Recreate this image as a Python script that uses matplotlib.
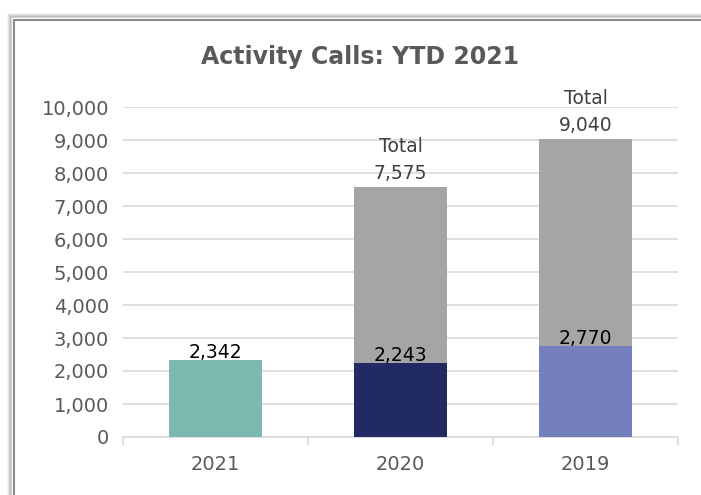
import matplotlib.pyplot as plt
from matplotlib.patches import Rectangle
import numpy as np

years = ["2021", "2020", "2019"]
ytd = [2342, 2243, 2770]
totals = [None, 7575, 9040]
bar_colors = ["#7db8b1", "#212a63", "#7480be"]
rest_color = "#a5a5a5"

fig = plt.figure(figsize=(7.01, 4.95), dpi=100)

# chart frame with a soft shadow
for i, a in enumerate([0.04, 0.07, 0.11, 0.16]):
    off = (4 - i) / 701
    fig.patches.append(Rectangle((12 / 701 - off, -0.2), 1.2, 1 - 18 / 495 + 0.2 + off * 701 / 495,
                                 transform=fig.transFigure, fill=False,
                                 edgecolor="black", alpha=a, lw=1.5, zorder=-2))
fig.patches.append(Rectangle((14 / 701, -0.2), 1.2, 1 - 20 / 495 + 0.2,
                             transform=fig.transFigure, facecolor="white",
                             edgecolor="#8c8c8c", lw=1.5, zorder=-1))

ax = fig.add_axes([123 / 701, 1 - 437 / 495, 555 / 701, 330 / 495])
ax.set_facecolor("none")
x = np.arange(len(years))
w = 0.505

ax.bar(x, ytd, width=w, color=bar_colors, zorder=3)
rest = [t - v if t else 0 for t, v in zip(totals, ytd)]
ax.bar(x, rest, bottom=ytd, width=w, color=rest_color, zorder=3)

for xi, v, t in zip(x, ytd, totals):
    ax.text(xi, v - 60, f"{v:,}", ha="center", va="bottom", fontsize=13.5, color="black", zorder=4)
    if t:
        ax.text(xi, t + 110, f"Total\n{t:,}", ha="center", va="bottom", fontsize=13.5,
                color="#404040", linespacing=1.55, zorder=4)

ax.set_xlim(-0.5, 2.5)
ax.set_ylim(0, 10000)
ax.set_yticks(np.arange(0, 10001, 1000))
ax.yaxis.set_major_formatter(plt.FuncFormatter(lambda v, p: f"{int(v):,}"))
ax.grid(axis="y", color="#d9d9d9", lw=1.2, zorder=0)
ax.set_xticks(x)
ax.set_xticklabels(years)
ax.set_xticks([-0.5, 0.5, 1.5, 2.5], minor=True)
ax.tick_params(axis="x", which="major", length=0, pad=13, labelsize=14, labelcolor="#595959")
ax.tick_params(axis="x", which="minor", length=6, color="#d9d9d9", width=1.2)
ax.tick_params(axis="y", length=0, pad=10, labelsize=14, labelcolor="#595959")
for s in ["left", "right", "top"]:
    ax.spines[s].set_visible(False)
ax.spines["bottom"].set_color("#d9d9d9")
ax.spines["bottom"].set_linewidth(1.2)

fig.text(360 / 701, 1 - 57 / 495, "Activity Calls: YTD 2021", ha="center", va="center",
         fontsize=17, fontweight="bold", color="#595959")

fig.savefig("out.png", dpi=100)
